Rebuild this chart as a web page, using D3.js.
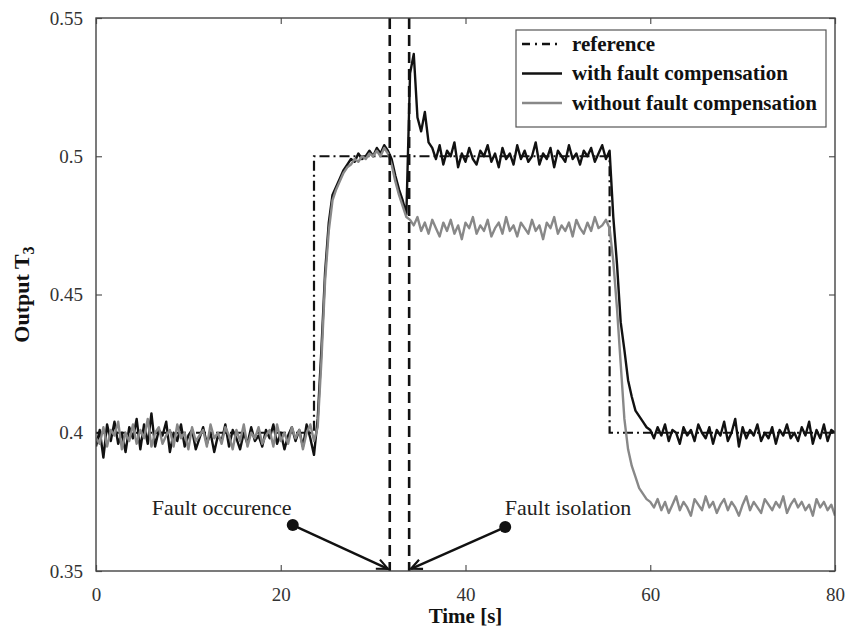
<!DOCTYPE html>
<html>
<head>
<meta charset="utf-8">
<script src="https://cdn.jsdelivr.net/npm/d3@7"></script>
<style>
    body { margin: 0; background: #fff; }
    svg text { font-family: "Liberation Serif", "DejaVu Serif", serif !important; }
</style>
</head>
<body>
<div id="chart"></div>
<script>
// sampling step of the two measured curves, seconds
const sampleStep = 0.4;

const withCompensation = [
    0.395, 0.401, 0.391, 0.403, 0.397, 0.404, 0.396, 0.400, 0.393, 0.402,
    0.398, 0.405, 0.394, 0.403, 0.396, 0.407, 0.395, 0.401, 0.399, 0.404,
    0.393, 0.400, 0.397, 0.403, 0.395, 0.399, 0.401, 0.394, 0.398, 0.402,
    0.396, 0.400, 0.393, 0.399, 0.397, 0.403, 0.395, 0.401, 0.398, 0.394,
    0.400, 0.396, 0.402, 0.397, 0.399, 0.395, 0.401, 0.398, 0.403, 0.396,
    0.400, 0.394, 0.399, 0.402, 0.397, 0.401, 0.395, 0.403, 0.398, 0.392,
    0.405, 0.430, 0.458, 0.476, 0.486, 0.489, 0.492, 0.495, 0.497, 0.499,
    0.498, 0.501, 0.499, 0.500, 0.502, 0.500, 0.503, 0.501, 0.504, 0.502,
    0.499, 0.493, 0.488, 0.484, 0.479, 0.530, 0.537, 0.514, 0.509, 0.516,
    0.505, 0.503,
    0.499, 0.504, 0.497, 0.502, 0.500, 0.505, 0.496, 0.501, 0.498, 0.503,
    0.499, 0.497, 0.502, 0.500, 0.504, 0.498, 0.501, 0.496, 0.503, 0.499,
    0.501, 0.497, 0.504, 0.499, 0.502, 0.498, 0.500, 0.505, 0.497, 0.501,
    0.499, 0.503, 0.496, 0.502, 0.500, 0.498, 0.504, 0.499, 0.501, 0.497,
    0.502, 0.500, 0.503, 0.498, 0.501, 0.504, 0.499, 0.502,
    0.478, 0.461, 0.440, 0.430, 0.419, 0.413, 0.408, 0.406, 0.404, 0.402,
    0.401,
    0.398, 0.402, 0.399, 0.403, 0.397, 0.401, 0.400, 0.396, 0.402, 0.399,
    0.401, 0.397, 0.403, 0.400, 0.398, 0.402, 0.396, 0.401, 0.399, 0.404,
    0.397, 0.400, 0.405, 0.395, 0.402, 0.398, 0.401, 0.399, 0.403, 0.397,
    0.400, 0.398, 0.402, 0.396, 0.401, 0.399, 0.403, 0.398, 0.400, 0.397,
    0.402, 0.399, 0.404, 0.396, 0.401, 0.398, 0.403, 0.397, 0.401, 0.400
];

const withoutCompensation = [
    0.398, 0.396, 0.402, 0.395, 0.401, 0.399, 0.404, 0.394, 0.400, 0.397,
    0.403, 0.396, 0.401, 0.398, 0.405, 0.395, 0.400, 0.402, 0.396, 0.399,
    0.401, 0.395, 0.403, 0.398, 0.400, 0.394, 0.402, 0.397, 0.399, 0.401,
    0.395, 0.403, 0.398, 0.400, 0.396, 0.402, 0.399, 0.394, 0.401, 0.397,
    0.403, 0.395, 0.400, 0.398, 0.402, 0.396, 0.399, 0.401, 0.395, 0.403,
    0.397, 0.400, 0.396, 0.402, 0.398, 0.401, 0.394, 0.400, 0.403, 0.397,
    0.402, 0.426, 0.455, 0.473, 0.484, 0.488, 0.491, 0.494, 0.496, 0.497,
    0.499, 0.498, 0.500, 0.499, 0.501, 0.500, 0.502, 0.500, 0.503, 0.501,
    0.497, 0.491, 0.486, 0.482, 0.478, 0.477, 0.475, 0.478, 0.473, 0.476,
    0.472, 0.477, 0.474,
    0.471, 0.476, 0.473, 0.477, 0.472, 0.475, 0.470, 0.476, 0.474, 0.478,
    0.472, 0.475, 0.473, 0.477, 0.471, 0.474, 0.476, 0.472, 0.478, 0.473,
    0.475, 0.471, 0.476, 0.474, 0.472, 0.477, 0.473, 0.475, 0.470, 0.476,
    0.474, 0.478, 0.472, 0.475, 0.473, 0.476, 0.471, 0.477, 0.474, 0.472,
    0.476, 0.473, 0.478, 0.474, 0.475, 0.477, 0.474,
    0.462, 0.445, 0.425, 0.405, 0.394, 0.388, 0.384, 0.380, 0.378, 0.376,
    0.375,
    0.373, 0.376, 0.372, 0.375, 0.371, 0.374, 0.377, 0.372, 0.375, 0.373,
    0.370, 0.376, 0.374, 0.372, 0.377, 0.373, 0.375, 0.371, 0.374, 0.376,
    0.372, 0.375, 0.373, 0.370, 0.374, 0.377, 0.372, 0.375, 0.373, 0.371,
    0.376, 0.374, 0.372, 0.375, 0.373, 0.377, 0.371, 0.374, 0.376, 0.373,
    0.375, 0.372, 0.374, 0.370, 0.376, 0.373, 0.375, 0.372, 0.374, 0.370
];

// set-point (time, value) corners
const referenceTimes = [0, 23.6, 23.6, 55.6, 55.6, 80];
const referenceValues = [0.4, 0.4, 0.5, 0.5, 0.4, 0.4];

const faultTimes = [31.8, 33.9];

const xTicks = [0, 20, 40, 60, 80];
const yTicks = [0.35, 0.4, 0.45, 0.5, 0.55];

const seriesNames = ["reference", "with fault compensation", "without fault compensation"];

// annotation anchors: label, dot (time, value), arrow tip (time, value)
const noteLabels = ["Fault occurence", "Fault isolation"];
const noteDots = [[21.3, 0.3666], [44.3, 0.3659]];
const noteTips = [[31.6, 0.3508], [34.1, 0.3508]];
const noteText = [[13.6, 0.3703], [51.1, 0.3703]];

const serif = "'Liberation Serif', 'DejaVu Serif', serif";

document.addEventListener("DOMContentLoaded", function () {
    drawChart();
});

function drawChart() {
    const width = 852;
    const height = 640;
    const margin = { top: 18, right: 17, bottom: 69, left: 96 };
    const chartWidth = width - margin.left - margin.right;
    const chartHeight = height - margin.top - margin.bottom;

    const svg = d3.select("#chart").append("svg")
        .attr("width", width)
        .attr("height", height);

    const x = d3.scaleLinear().domain([0, 80]).range([0, chartWidth]);
    const y = d3.scaleLinear().domain([0.35, 0.55]).range([chartHeight, 0]);

    const chartArea = svg.append("g")
        .attr("transform", `translate(${margin.left}, ${margin.top})`);

    svg.append("defs").append("clipPath")
        .attr("id", "plot-clip")
        .append("rect")
        .attr("width", chartWidth)
        .attr("height", chartHeight);

    svg.select("defs").append("marker")
        .attr("id", "arrow")
        .attr("viewBox", "-12 -7 14 14")
        .attr("markerWidth", 14)
        .attr("markerHeight", 14)
        .attr("markerUnits", "userSpaceOnUse")
        .attr("orient", "auto")
        .append("path")
        .attr("d", "M-11,-5 L0,0 L-11,5")
        .attr("fill", "none")
        .attr("stroke", "#111")
        .attr("stroke-width", 2.2);

    // axes: ticks point inward on all four sides
    const fmt = d => String(+d.toFixed(2));
    const left = chartArea.append("g")
        .call(d3.axisLeft(y).tickValues(yTicks).tickSize(-6).tickPadding(13).tickFormat(fmt));
    const bottom = chartArea.append("g")
        .attr("transform", `translate(0, ${chartHeight})`)
        .call(d3.axisBottom(x).tickValues(xTicks).tickSize(-6).tickPadding(17).tickFormat(fmt));
    const right = chartArea.append("g")
        .attr("transform", `translate(${chartWidth}, 0)`)
        .call(d3.axisRight(y).tickValues(yTicks).tickSize(-6).tickFormat(""));
    const top = chartArea.append("g")
        .call(d3.axisTop(x).tickValues(xTicks).tickSize(-6).tickFormat(""));

    [left, bottom, right, top].forEach(g => {
        g.attr("font-family", serif);
        g.select(".domain").remove();
        g.selectAll(".tick line").attr("stroke", "#555").attr("stroke-width", 1.2);
        g.selectAll("text")
            .style("font-family", serif)
            .style("font-size", "19px")
            .attr("fill", "#333");
    });

    const plot = chartArea.append("g").attr("clip-path", "url(#plot-clip)");

    const line = d3.line()
        .x(d => x(d[0]))
        .y(d => y(d[1]));

    const referenceData = referenceTimes.map((t, i) => [t, referenceValues[i]]);
    const withData = withCompensation.map((v, i) => [i * sampleStep, v]);
    const withoutData = withoutCompensation.map((v, i) => [i * sampleStep, v]);

    plot.append("path")
        .datum(referenceData)
        .attr("d", line)
        .attr("fill", "none")
        .attr("stroke", "#111")
        .attr("stroke-width", 2.2)
        .attr("stroke-dasharray", "10,4,2,4");

    plot.append("path")
        .datum(withData)
        .attr("d", line)
        .attr("fill", "none")
        .attr("stroke", "#111")
        .attr("stroke-width", 2.4)
        .attr("stroke-linejoin", "round");

    plot.append("path")
        .datum(withoutData)
        .attr("d", line)
        .attr("fill", "none")
        .attr("stroke", "#888")
        .attr("stroke-width", 2.4)
        .attr("stroke-linejoin", "round");

    // fault occurrence / isolation instants
    plot.selectAll(".fault-line")
        .data(faultTimes)
        .enter().append("line")
        .attr("class", "fault-line")
        .attr("x1", d => x(d))
        .attr("x2", d => x(d))
        .attr("y1", 0)
        .attr("y2", chartHeight)
        .attr("stroke", "#111")
        .attr("stroke-width", 2.6)
        .attr("stroke-dasharray", "11,6");

    // frame
    chartArea.append("rect")
        .attr("width", chartWidth)
        .attr("height", chartHeight)
        .attr("fill", "none")
        .attr("stroke", "#444")
        .attr("stroke-width", 1.4);

    // annotations
    chartArea.selectAll(".note-arrow")
        .data(noteDots)
        .enter().append("line")
        .attr("class", "note-arrow")
        .attr("x1", d => x(d[0]))
        .attr("y1", d => y(d[1]))
        .attr("x2", (d, i) => x(noteTips[i][0]))
        .attr("y2", (d, i) => y(noteTips[i][1]))
        .attr("stroke", "#111")
        .attr("stroke-width", 2.4)
        .attr("marker-end", "url(#arrow)");

    chartArea.selectAll(".note-dot")
        .data(noteDots)
        .enter().append("circle")
        .attr("class", "note-dot")
        .attr("cx", d => x(d[0]))
        .attr("cy", d => y(d[1]))
        .attr("r", 6)
        .attr("fill", "#111");

    chartArea.selectAll(".note-text")
        .data(noteText)
        .enter().append("text")
        .attr("class", "note-text")
        .attr("x", d => x(d[0]))
        .attr("y", d => y(d[1]))
        .attr("text-anchor", "middle")
        .style("font-family", serif)
        .style("font-size", "22px")
        .attr("fill", "#222")
        .text((d, i) => noteLabels[i]);

    // axis titles
    svg.append("text")
        .attr("x", margin.left + chartWidth / 2)
        .attr("y", 623)
        .attr("text-anchor", "middle")
        .style("font-family", serif)
        .style("font-size", "21px")
        .style("font-weight", "bold")
        .attr("fill", "#111")
        .text("Time [s]");

    const yTitle = svg.append("text")
        .attr("transform", `translate(29, ${margin.top + chartHeight / 2}) rotate(-90)`)
        .attr("text-anchor", "middle")
        .style("font-family", serif)
        .style("font-size", "22px")
        .style("font-weight", "bold")
        .attr("fill", "#111");
    yTitle.append("tspan").text("Output T");
    yTitle.append("tspan").attr("dy", "0.3em").style("font-size", "16px").text("3");

    // legend
    const legend = svg.append("g").attr("transform", "translate(516, 30)");
    legend.append("rect")
        .attr("width", 310)
        .attr("height", 97)
        .attr("fill", "#fff")
        .attr("stroke", "#555")
        .attr("stroke-width", 1.2);

    const legendStyles = [
        { color: "#111", dash: "8,5,2,5" },
        { color: "#111", dash: null },
        { color: "#888", dash: null }
    ];

    const legendItems = legend.selectAll(".legend-item")
        .data(seriesNames)
        .enter().append("g")
        .attr("class", "legend-item")
        .attr("transform", (d, i) => `translate(0, ${14 + i * 29.5})`);

    legendItems.append("line")
        .attr("x1", 6)
        .attr("x2", 46)
        .attr("y1", 0)
        .attr("y2", 0)
        .attr("stroke", (d, i) => legendStyles[i].color)
        .attr("stroke-width", 2.6)
        .attr("stroke-dasharray", (d, i) => legendStyles[i].dash);

    legendItems.append("text")
        .attr("x", 56)
        .attr("y", 0)
        .attr("dy", "0.32em")
        .style("font-family", serif)
        .style("font-size", "21px")
        .style("font-weight", "bold")
        .attr("fill", "#111")
        .text(d => d);
}
</script>
</body>
</html>
